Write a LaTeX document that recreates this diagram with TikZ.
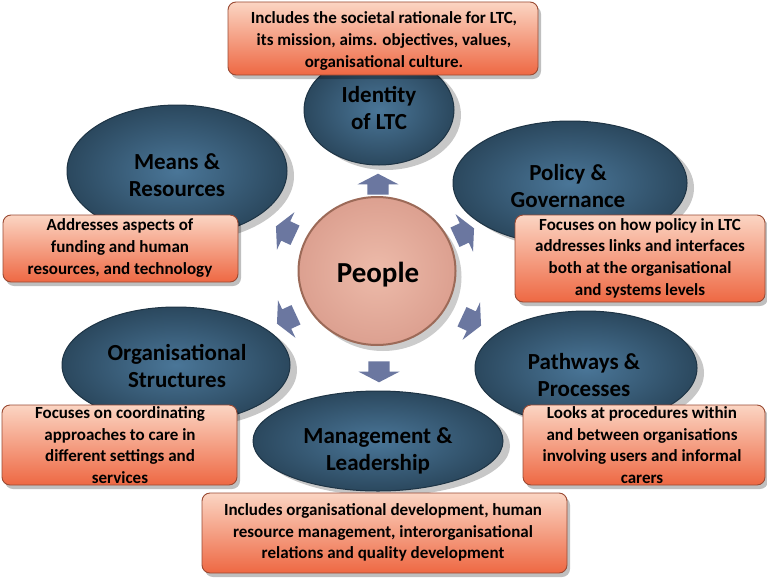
\documentclass[tikz,border=0pt]{standalone}
\usepackage{fontspec}
\setmainfont{Carlito}
\usetikzlibrary{shapes.geometric,shapes.arrows,shadows}
\definecolor{ellin}{HTML}{4A7698}
\definecolor{ellout}{HTML}{2B485E}
\definecolor{ellborder}{HTML}{1E3445}
\definecolor{boxtop}{HTML}{FBD5C3}
\definecolor{boxmid}{HTML}{F6A283}
\definecolor{boxbot}{HTML}{EE6843}
\definecolor{boxborder}{HTML}{9A4A33}
\definecolor{arrowc}{HTML}{6B77A0}
\definecolor{pplin}{HTML}{EDBBAA}
\definecolor{pplout}{HTML}{DCA090}
\definecolor{pplborder}{HTML}{9C6A58}
\begin{document}
\begin{tikzpicture}[x=1pt,y=-1pt,
  satellite/.style={ellipse, draw=ellborder, line width=1pt, inner sep=0pt,
    inner color=ellin, outer color=ellout,
    drop shadow={shadow xshift=7pt, shadow yshift=-5pt, opacity=0.22, fill=black}},
  etext/.style={font=\fontsize{23}{26.5}\selectfont\bfseries, align=center, text=black, inner sep=0pt},
  notebox/.style={rectangle, rounded corners=8pt, draw=boxborder, line width=0.9pt, inner sep=0pt,
    top color=boxtop, middle color=boxmid, bottom color=boxbot,
    drop shadow={shadow xshift=3pt, shadow yshift=-4pt, opacity=0.25, fill=black}},
  ntext/.style={font=\fontsize{17}{21.7}\selectfont\bfseries, align=center, text=black, inner sep=0pt},
  blockarrow/.style={single arrow, fill=arrowc, draw=none, minimum height=21pt,
    inner xsep=0pt, inner ysep=10.5pt, single arrow head extend=10pt,
    single arrow tip angle=125, single arrow head indent=0pt}
]
\useasboundingbox (0,0) rectangle (767,578);
\fill[white] (0,0) rectangle (767,578);

% satellites
\node[satellite, minimum width=150pt, minimum height=110pt] (id) at (379,110) {};
\node[satellite, minimum width=220pt, minimum height=132pt] (mr) at (177,171) {};
\node[satellite, minimum width=234pt, minimum height=124pt] (pg) at (570,183) {};
\node[satellite, minimum width=228pt, minimum height=116pt] (os) at (176,365) {};
\node[satellite, minimum width=222pt, minimum height=114pt] (pp) at (586,368) {};
\node[satellite, minimum width=250pt, minimum height=100pt] (ml) at (378,441) {};

\node[etext] (idt) at (379,108) {Identity\\of LTC};
\node[etext] (mrt) at (177,175) {Means \&\\Resources};
\node[etext] (pgt) at (568,186) {Policy \&\\Governance};
\node[etext] (ost) at (177,366) {Organisational\\Structures};
\node[etext] (ppt) at (584,375) {Pathways \&\\Processes};
\node[etext] (mlt) at (378,451) {Management \&\\Leadership};

% note boxes
\node[notebox, minimum width=310pt, minimum height=73pt] (b1) at (383,38.5) {};
\node[ntext] (b1t) at (384,41) {Includes the societal rationale for LTC,\\its mission, aims. objectives, values,\\organisational culture.};
\node[notebox, minimum width=235pt, minimum height=67pt] (b2) at (120.5,248.5) {};
\node[ntext] (b2t) at (120,248) {Addresses aspects of\\funding and human\\resources, and technology};
\node[notebox, minimum width=250pt, minimum height=87pt] (b3) at (640,258.5) {};
\node[ntext] (b3t) at (640,258) {Focuses on how policy in LTC\\addresses links and interfaces\\both at the organisational\\and systems levels};
\node[notebox, minimum width=235pt, minimum height=80pt] (b4) at (119.5,445) {};
\node[ntext] (b4t) at (120,445) {Focuses on coordinating\\approaches to care in\\different settings and\\services};
\node[notebox, minimum width=242pt, minimum height=80pt] (b5) at (644,445) {};
\node[ntext] (b5t) at (642,445) {Looks at procedures within\\and between organisations\\involving users and informal\\carers};
\node[notebox, minimum width=365pt, minimum height=80pt] (b6) at (384.5,533) {};
\node[ntext] (b6t) at (383,532.5) {Includes organisational development, human\\resource management, interorganisational\\relations and quality development};

% arrows
\node[blockarrow, rotate=90] (a1) at (378,187) {};
\node[blockarrow, rotate=155] (a2) at (288,232) {};
\node[blockarrow, rotate=25] (a3) at (462,234) {};
\node[blockarrow, rotate=205] (a4) at (289,318) {};
\node[blockarrow, rotate=335] (a5) at (469,320) {};
\node[blockarrow, rotate=270] (a6) at (379,369) {};

% centre
\node[ellipse, minimum width=157pt, minimum height=148pt, inner sep=0pt,
  inner color=pplin, outer color=pplout, draw=pplborder, line width=2pt,
  drop shadow={shadow xshift=6pt, shadow yshift=-6pt, opacity=0.2, fill=black}] (pe) at (377,271) {};
\node[font=\fontsize{29}{32}\selectfont\bfseries, text=black, inner sep=0pt] (pet) at (378,275) {People};
\end{tikzpicture}
\end{document}
